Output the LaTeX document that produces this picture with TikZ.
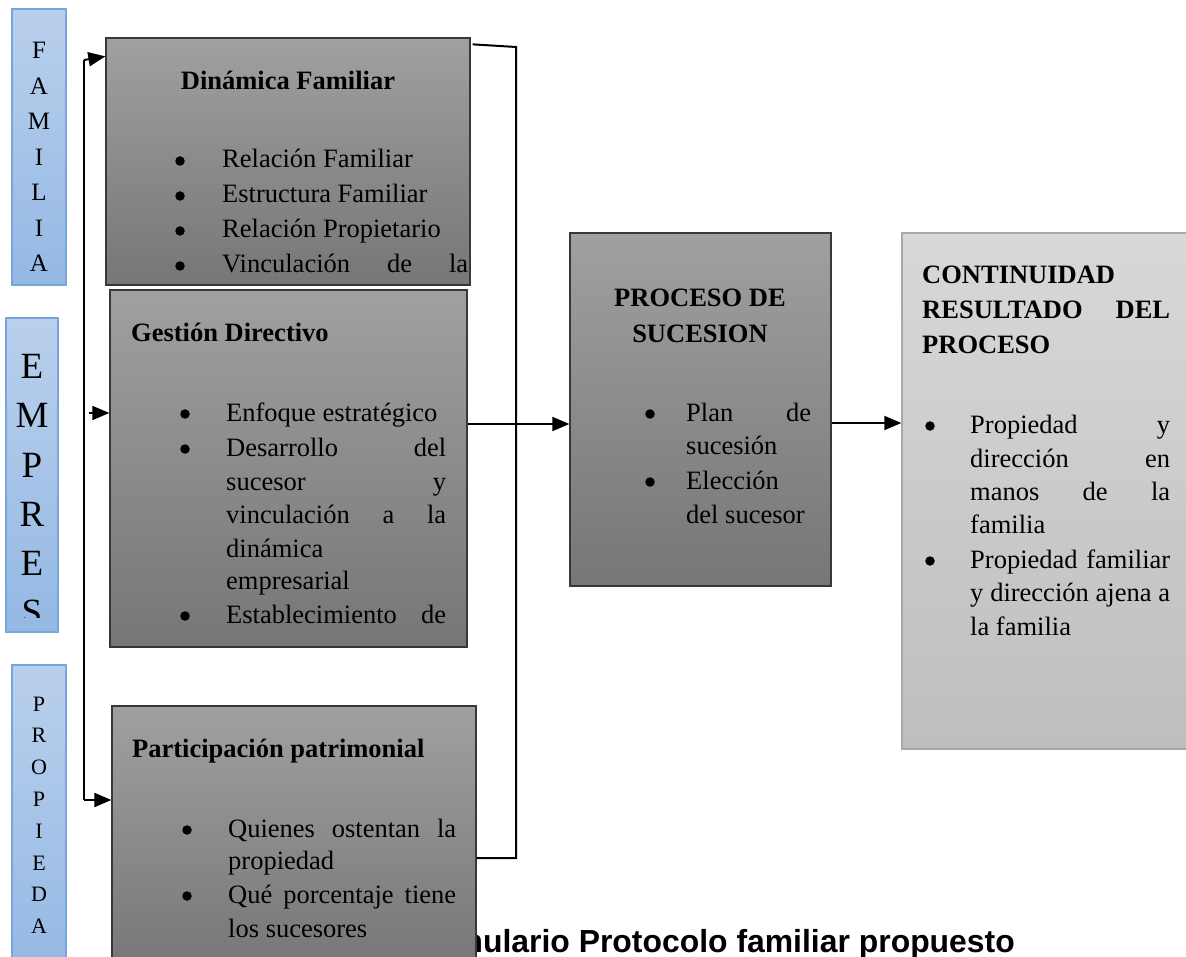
\documentclass[tikz,border=0pt]{standalone}
\usepackage{fontspec}
\setmainfont{Liberation Serif}
\newfontfamily\capfont{Liberation Sans}
\usetikzlibrary{arrows.meta,calc}
\definecolor{gtop}{HTML}{A0A0A0}
\definecolor{gbot}{HTML}{767676}
\definecolor{ltop}{HTML}{D8D8D8}
\definecolor{lbot}{HTML}{BEBEBE}
\definecolor{lbrd}{HTML}{A8A8A8}
\definecolor{btop}{HTML}{B9D0EC}
\definecolor{bbot}{HTML}{94B8E4}
\definecolor{bbrd}{HTML}{78A6DC}
\begin{document}
\begin{tikzpicture}[x=1pt,y=-1pt,
  graybox/.style={draw=black!78,line width=1.3pt,top color=gtop,bottom color=gbot,inner sep=0pt},
  lightbox/.style={draw=lbrd,line width=1.3pt,top color=ltop,bottom color=lbot,inner sep=0pt},
  bluebox/.style={draw=bbrd,line width=1.3pt,top color=btop,bottom color=bbot,inner sep=0pt},
  txt/.style={anchor=base west,inner sep=0pt,font=\fontsize{26.5}{30}\selectfont},
  ttl/.style={anchor=base west,inner sep=0pt,font=\fontsize{26.5}{30}\selectfont\bfseries},
  ctl/.style={anchor=base,inner sep=0pt,font=\fontsize{26.5}{30}\selectfont\bfseries},
  bul/.style={circle,fill=black,inner sep=0pt,minimum size=9.5pt,yshift=7pt},
  lt/.style={anchor=base,inner sep=0pt},
  capt/.style={anchor=base east,inner sep=0pt,font=\capfont\fontsize{31.9}{34}\selectfont\bfseries},
  conn/.style={line width=2pt,draw=black},
  arr/.style={line width=2pt,draw=black,-{Triangle[length=17pt,width=14pt]}}
]
\useasboundingbox (0,0) rectangle (1186,957);

% caption (partly hidden behind the lower box)
\node[capt] (cap) at (1015,952) {Formulario Protocolo familiar propuesto};

% ---------- blue side labels ----------
\node[bluebox,minimum width=54pt,minimum height=276pt] (fam) at (39,147) {};
\foreach \l [count=\i from 0] in {F,A,M,I,L,I,A}
  \node[lt,font=\fontsize{25}{25}\selectfont] (fam\i) at (39,{59+35.5*\i}) {\l};

\node[bluebox,minimum width=52pt,minimum height=314pt] (emp) at (32,475) {};
\begin{scope}
  \clip (6,318) rectangle (58,617);
  \foreach \l [count=\i from 0] in {E,M,P,R,E,S}
    \node[lt,font=\fontsize{37}{37}\selectfont] (emp\i) at (32,{379+49*\i}) {\l};
\end{scope}

\node[bluebox,minimum width=54pt,minimum height=310pt] (pro) at (39,820) {};
\foreach \l [count=\i from 0] in {P,R,O,P,I,E,D,A}
  \node[lt,font=\fontsize{22}{22}\selectfont] (pro\i) at (39,{711+31.8*\i}) {\l};

% ---------- Dinamica Familiar ----------
\node[graybox,minimum width=364pt,minimum height=247pt] (dyn) at (288,161.5) {};
\node[ctl] (dynt) at (288,90) {Dinámica Familiar};
\foreach \t/\y [count=\i] in {Relación Familiar/168,Estructura Familiar/203,Relación Propietario/238}{
  \node[bul] (dynb\i) at (180,\y) {};
  \node[txt] (dyn\i) at (222,\y) {\t};
}
\node[bul] (dynb4) at (180,273) {};
\node[txt] (dyn4) at (222,273) {\hbox to 246pt{Vinculación\hfill de\hfill la}};

% ---------- Gestion Directivo ----------
\node[graybox,minimum width=357pt,minimum height=357pt] (gest) at (288.5,468.5) {};
\node[ttl] (gestt) at (131,342) {Gestión Directivo};
\node[bul] (gestb1) at (185,421) {};
\node[txt] (gest1) at (226,421) {Enfoque estratégico};
\node[bul] (gestb2) at (185,456) {};
\node[txt] (gest2) at (226,456) {\hbox to 220pt{Desarrollo\hfill del}};
\node[txt] (gest3) at (226,490) {\hbox to 220pt{sucesor\hfill y}};
\node[txt] (gest4) at (226,523) {\hbox to 220pt{vinculación\hfill a\hfill la}};
\node[txt] (gest5) at (226,557) {dinámica};
\node[txt] (gest6) at (226,589) {empresarial};
\node[bul] (gestb3) at (185,623) {};
\node[txt] (gest7) at (226,623) {\hbox to 220pt{Establecimiento\hfill de}};

% ---------- Participacion patrimonial ----------
\node[graybox,minimum width=364pt,minimum height=264pt] (part) at (294,838) {};
\node[ttl] (partt) at (132,757) {Participación patrimonial};
\node[bul] (partb1) at (187,837) {};
\node[txt] (part1) at (228,837) {\hbox to 228pt{Quienes\hfill ostentan\hfill la}};
\node[txt] (part2) at (228,869) {propiedad};
\node[bul] (partb2) at (187,903) {};
\node[txt] (part3) at (228,903) {\hbox to 228pt{Qué\hfill porcentaje\hfill tiene}};
\node[txt] (part4) at (228,937) {los sucesores};

% ---------- Proceso de sucesion ----------
\node[graybox,minimum width=261pt,minimum height=353pt] (proc) at (700.5,409.5) {};
\node[ctl] (proct1) at (700,307) {PROCESO DE};
\node[ctl] (proct2) at (700,343) {SUCESION};
\node[bul] (procb1) at (650,421) {};
\node[txt] (proc1) at (686,421) {\hbox to 125pt{Plan\hfill de}};
\node[txt] (proc2) at (686,454) {sucesión};
\node[bul] (procb2) at (650,489) {};
\node[txt] (proc3) at (686,489) {Elección};
\node[txt] (proc4) at (686,523) {del sucesor};

% ---------- Continuidad ----------
\node[lightbox,minimum width=290pt,minimum height=516pt] (cont) at (1047,491) {};
\node[ttl] (contt1) at (922,284) {CONTINUIDAD};
\node[ttl] (contt2) at (922,319) {\hbox to 248pt{RESULTADO\hfill DEL}};
\node[ttl] (contt3) at (922,354) {PROCESO};
\node[bul] (contb1) at (930,433) {};
\node[txt] (cont1) at (970,433) {\hbox to 200pt{Propiedad\hfill y}};
\node[txt] (cont2) at (970,467) {\hbox to 200pt{dirección\hfill en}};
\node[txt] (cont3) at (970,500) {\hbox to 200pt{manos\hfill de\hfill la}};
\node[txt] (cont4) at (970,533) {familia};
\node[bul] (contb2) at (930,568) {};
\node[txt] (cont5) at (970,568) {\hbox to 200pt{Propiedad\hfill familiar}};
\node[txt] (cont6) at (970,601) {\hbox to 200pt{y\hfill dirección\hfill ajena\hfill a}};
\node[txt] (cont7) at (970,635) {la familia};

% ---------- connectors ----------
\coordinate (ltop) at (84,60);
\coordinate (lbot) at (84,800);
\coordinate (lmid) at (89,413);
\draw[conn] (ltop) -- (lbot);
\draw[arr] (ltop) -- ($(dyn.north west)+(0,19)$);
\draw[arr] (lmid) -- (gest.west |- lmid);
\draw[arr] (lbot) -- (part.west |- lbot);

\coordinate (rtop) at (516,47);
\coordinate (rbot) at (516,858);
\coordinate (rmid) at (516,424);
\draw[conn] ($(dyn.north east)+(2,7)$) -- (rtop) -- (rbot) -- (part.north east |- rbot);
\draw[arr] (gest.east |- rmid) -- (proc.west |- rmid);
\coordinate (pmid) at (866,423);
\draw[arr] (proc.east |- pmid) -- (cont.west |- pmid);
\end{tikzpicture}
\end{document}
